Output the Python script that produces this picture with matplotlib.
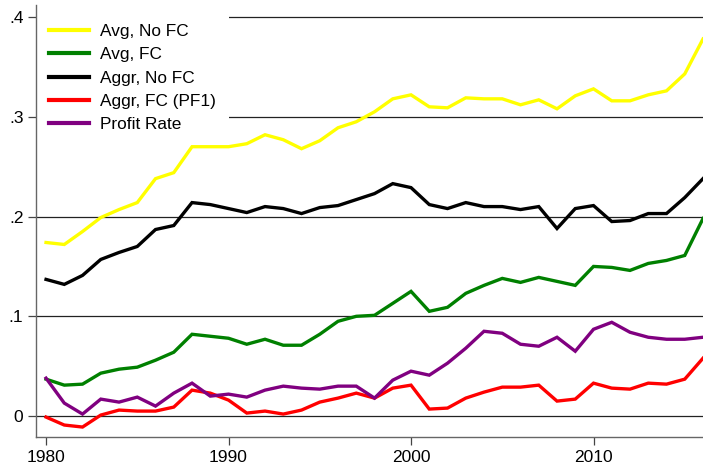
import matplotlib
matplotlib.use("Agg")
import matplotlib.pyplot as plt

plt.rcParams['font.family'] = ['Liberation Sans', 'DejaVu Sans']

years = list(range(1980, 2017))

avg_no_fc = [0.174, 0.172, 0.185, 0.199, 0.207, 0.214, 0.238, 0.244, 0.270, 0.270,
             0.270, 0.273, 0.282, 0.277, 0.268, 0.276, 0.289, 0.295, 0.305, 0.318,
             0.322, 0.310, 0.309, 0.319, 0.318, 0.318, 0.312, 0.317, 0.308, 0.321,
             0.328, 0.316, 0.316, 0.322, 0.326, 0.343, 0.378]
avg_fc = [0.037, 0.031, 0.032, 0.043, 0.047, 0.049, 0.056, 0.064, 0.082, 0.080,
          0.078, 0.072, 0.077, 0.071, 0.071, 0.082, 0.095, 0.100, 0.101, 0.113,
          0.125, 0.105, 0.109, 0.123, 0.131, 0.138, 0.134, 0.139, 0.135, 0.131,
          0.150, 0.149, 0.146, 0.153, 0.156, 0.161, 0.198]
aggr_no_fc = [0.137, 0.132, 0.141, 0.157, 0.164, 0.170, 0.187, 0.191, 0.214, 0.212,
              0.208, 0.204, 0.210, 0.208, 0.203, 0.209, 0.211, 0.217, 0.223, 0.233,
              0.229, 0.212, 0.208, 0.214, 0.210, 0.210, 0.207, 0.210, 0.188, 0.208,
              0.211, 0.195, 0.196, 0.203, 0.203, 0.219, 0.238]
aggr_fc = [-0.001, -0.009, -0.011, 0.001, 0.006, 0.005, 0.005, 0.009, 0.026, 0.023,
           0.016, 0.003, 0.005, 0.002, 0.006, 0.014, 0.018, 0.023, 0.018, 0.028,
           0.031, 0.007, 0.008, 0.018, 0.024, 0.029, 0.029, 0.031, 0.015, 0.017,
           0.033, 0.028, 0.027, 0.033, 0.032, 0.037, 0.058]
profit_rate = [0.038, 0.013, 0.002, 0.017, 0.014, 0.019, 0.010, 0.023, 0.033, 0.020,
               0.022, 0.019, 0.026, 0.030, 0.028, 0.027, 0.030, 0.030, 0.018, 0.036,
               0.045, 0.041, 0.053, 0.068, 0.085, 0.083, 0.072, 0.070, 0.079, 0.065,
               0.087, 0.094, 0.084, 0.079, 0.077, 0.077, 0.079]

series = [
    ("Avg, No FC", avg_no_fc, "#ffff00"),
    ("Avg, FC", avg_fc, "#008000"),
    ("Aggr, No FC", aggr_no_fc, "#000000"),
    ("Aggr, FC (PF1)", aggr_fc, "#ff0000"),
    ("Profit Rate", profit_rate, "#800080"),
]

y_ticks = [0, 0.1, 0.2, 0.3, 0.4]
y_tick_labels = ["0", ".1", ".2", ".3", ".4"]
x_ticks = [1980, 1990, 2000, 2010]

fig = plt.figure(figsize=(7.03, 4.68), dpi=100)
ax = fig.add_axes([0.0512, 0.0662, 0.9488, 0.923])

# horizontal grid at each labelled value
for yv in y_ticks:
    ax.axhline(yv, color="#222222", lw=0.9, zorder=1)

for label, vals, color in series:
    ax.plot(years, vals, color=color, lw=2.4, label=label, zorder=3,
            solid_joinstyle="miter")

ax.set_xlim(1979.45, 2016)
ax.set_ylim(-0.021, 0.412)
ax.set_xticks(x_ticks)
ax.set_yticks(y_ticks)
ax.set_yticklabels(y_tick_labels)
ax.tick_params(axis="both", labelsize=12.5, length=6, width=0.9, color="#444444")
ax.tick_params(axis="y", pad=3)

for side in ["top", "right"]:
    ax.spines[side].set_visible(False)
for side in ["left", "bottom"]:
    ax.spines[side].set_color("#666666")
    ax.spines[side].set_linewidth(1.0)
    ax.spines[side].set_zorder(6)

# legend sits on a white box that hides the grid lines behind it
leg = ax.legend(loc="upper left", bbox_to_anchor=(0.0, 0.986), fontsize=12.4,
                frameon=True, fancybox=False, framealpha=1, facecolor="white",
                edgecolor="none", handlelength=2.3, handletextpad=0.65,
                labelspacing=0.48, borderpad=0.75, borderaxespad=0.0)
leg.set_zorder(5)
for line in leg.get_lines():
    line.set_linewidth(3)

fig.savefig("out.png", dpi=100)
